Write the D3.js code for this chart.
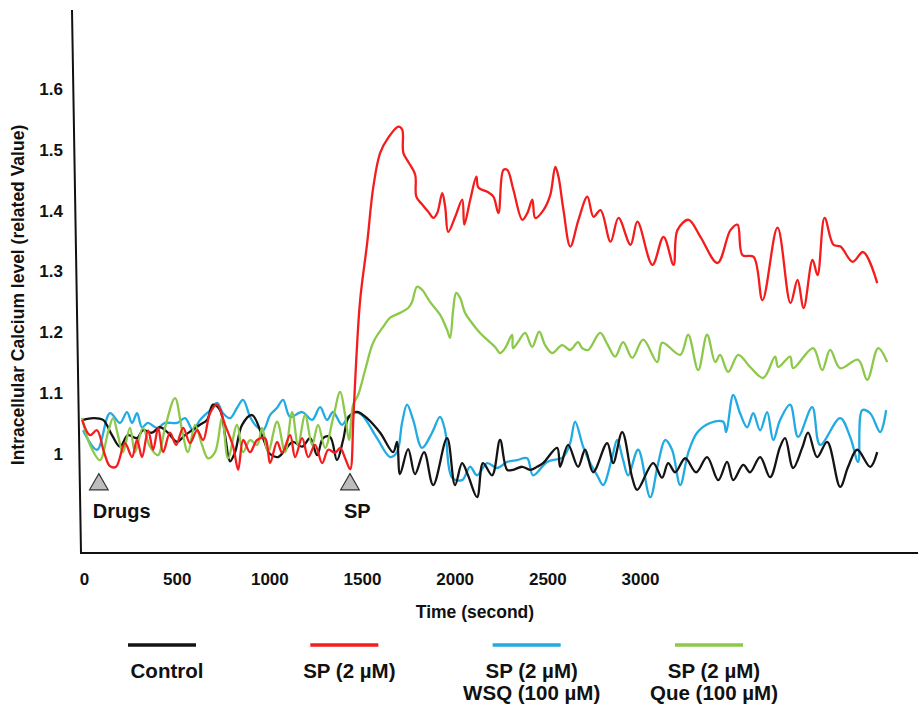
<!DOCTYPE html>
<html>
<head>
<meta charset="utf-8">
<script src="https://cdn.jsdelivr.net/npm/d3@7"></script>
<style>
  body { margin: 0; background: #fff; }
  text { font-family: Arial, "Liberation Sans", sans-serif; font-weight: bold; fill: #111; }
</style>
</head>
<body>
<svg id="chart" width="920" height="708"></svg>
<script>
// tick labels
var xTicks = [0, 500, 1000, 1500, 2000, 2500, 3000];
var yTicks = [1, 1.1, 1.2, 1.3, 1.4, 1.5, 1.6];

// [time (s), relative calcium]
var control = [[-5,1.056],[49,1.059],[103,1.056],[151,1.031],[194,1.012],[237,1.031],[286,1.026],[318,1.039],[367,1.035],[410,1.044],[453,1.035],[502,1.020],[545,1.031],[583,1.039],[626,1.048],[664,1.056],[696,1.081],[734,1.072],[761,1.031],[788,0.988],[815,1.003],[853,1.048],[907,1.064],[966,1.026],[1004,1.000],[1047,0.995],[1085,1.007],[1128,1.020],[1177,1.012],[1220,1.026],[1258,0.998],[1290,1.026],[1328,1.028],[1365,0.990],[1398,1.023],[1425,1.059],[1452,1.067],[1479,1.069],[1527,1.059],[1598,1.035],[1668,1.003],[1689,1.020],[1705,0.967],[1749,1.008],[1786,0.967],[1835,1.003],[1884,0.949],[1959,1.026],[2002,0.949],[2040,0.985],[2072,0.965],[2121,0.929],[2153,0.985],[2202,0.965],[2245,1.023],[2283,0.974],[2315,0.974],[2364,0.979],[2407,0.974],[2445,0.979],[2477,0.985],[2553,1.010],[2569,0.979],[2612,1.015],[2666,0.979],[2704,1.007],[2747,0.970],[2823,1.018],[2855,0.985],[2904,1.036],[2958,0.961],[2985,0.941],[3071,0.985],[3119,0.961],[3152,0.985],[3190,0.970],[3244,0.993],[3303,0.970],[3362,0.995],[3422,0.957],[3470,0.987],[3503,0.957],[3557,0.982],[3594,0.970],[3648,0.995],[3702,0.962],[3756,1.012],[3783,1.026],[3826,0.977],[3875,1.010],[3907,1.035],[3956,0.995],[4010,1.020],[4080,0.946],[4123,0.979],[4172,1.007],[4242,0.979],[4280,1.003]];

var sp = [[-10,1.056],[32,1.031],[70,1.039],[108,1.003],[140,0.980],[173,0.979],[221,1.018],[259,0.995],[286,1.023],[313,0.995],[346,1.039],[373,1.007],[400,1.043],[427,1.003],[464,1.035],[497,1.015],[535,1.043],[572,1.018],[610,1.039],[643,1.023],[680,1.067],[718,1.081],[761,1.048],[805,1.012],[832,0.974],[859,1.023],[896,1.003],[934,1.023],[977,1.026],[1004,0.985],[1042,1.020],[1069,1.002],[1112,1.031],[1139,0.995],[1177,1.026],[1210,0.995],[1247,1.015],[1285,0.985],[1318,1.007],[1355,1.002],[1382,1.010],[1409,0.993],[1436,0.975],[1453,1.056],[1469,1.155],[1490,1.253],[1528,1.347],[1561,1.439],[1598,1.495],[1642,1.520],[1696,1.538],[1717,1.533],[1723,1.495],[1750,1.480],[1787,1.459],[1793,1.423],[1825,1.410],[1858,1.398],[1885,1.388],[1906,1.396],[1933,1.429],[1949,1.406],[1965,1.365],[2003,1.390],[2041,1.418],[2052,1.377],[2084,1.418],[2117,1.456],[2128,1.438],[2176,1.431],[2209,1.423],[2236,1.396],[2263,1.467],[2284,1.467],[2317,1.434],[2365,1.385],[2392,1.396],[2419,1.418],[2435,1.388],[2479,1.401],[2516,1.426],[2543,1.472],[2560,1.456],[2587,1.401],[2624,1.341],[2668,1.385],[2716,1.423],[2749,1.390],[2787,1.401],[2841,1.349],[2884,1.388],[2949,1.344],[2986,1.382],[3067,1.311],[3127,1.357],[3181,1.311],[3202,1.368],[3262,1.385],[3326,1.357],[3418,1.314],[3488,1.368],[3526,1.377],[3553,1.327],[3613,1.324],[3661,1.253],[3742,1.372],[3812,1.248],[3850,1.286],[3883,1.240],[3931,1.319],[3958,1.294],[3996,1.388],[4044,1.344],[4082,1.341],[4147,1.316],[4204,1.332],[4280,1.281]];

var spWsq = [[-5,1.039],[70,1.007],[140,1.067],[194,1.051],[232,1.069],[259,1.051],[286,1.067],[313,1.044],[345,1.051],[394,1.043],[437,1.051],[502,1.051],[545,1.059],[588,1.039],[626,1.056],[680,1.072],[718,1.084],[750,1.067],[788,1.059],[826,1.076],[858,1.089],[896,1.061],[923,1.048],[966,1.039],[1004,1.064],[1042,1.076],[1074,1.089],[1112,1.061],[1177,1.069],[1231,1.056],[1274,1.077],[1311,1.056],[1344,1.069],[1392,1.048],[1425,1.061],[1463,1.069],[1500,1.064],[1581,1.026],[1652,0.995],[1689,1.003],[1716,1.051],[1743,1.081],[1776,1.056],[1824,1.010],[1878,1.035],[1921,1.061],[1948,1.039],[1986,0.961],[2040,0.957],[2083,0.979],[2121,0.965],[2175,0.985],[2229,0.977],[2283,0.987],[2337,0.990],[2391,0.993],[2423,0.965],[2499,0.987],[2585,0.995],[2623,1.018],[2650,1.053],[2693,1.012],[2731,0.985],[2769,0.965],[2801,0.949],[2850,0.995],[2877,1.023],[2909,0.990],[2936,0.965],[2990,1.007],[3055,0.929],[3098,0.985],[3136,1.023],[3173,1.007],[3217,0.949],[3260,1.002],[3308,1.035],[3378,1.051],[3449,1.053],[3465,1.036],[3503,1.097],[3540,1.067],[3578,1.044],[3611,1.067],[3648,1.039],[3686,1.069],[3719,1.023],[3756,1.056],[3810,1.081],[3853,1.028],[3929,1.077],[3972,1.015],[4080,1.059],[4134,1.028],[4177,0.987],[4199,1.072],[4242,1.067],[4296,1.036],[4328,1.072]];

var spQue = [[-11,1.059],[32,1.015],[86,0.990],[130,1.036],[157,1.059],[183,1.031],[210,1.003],[248,1.043],[275,1.003],[318,1.043],[356,1.012],[399,0.998],[437,1.043],[491,1.092],[529,1.039],[561,1.003],[599,1.048],[637,1.015],[669,0.993],[707,1.003],[745,1.059],[777,0.993],[826,1.048],[858,1.003],[896,1.023],[934,1.015],[961,1.043],[993,1.003],[1042,1.053],[1085,1.003],[1123,1.069],[1155,1.015],[1193,1.064],[1231,1.015],[1263,1.048],[1301,1.010],[1344,1.059],[1382,1.102],[1409,1.064],[1430,1.023],[1452,1.081],[1479,1.097],[1517,1.138],[1560,1.183],[1614,1.209],[1652,1.224],[1705,1.232],[1749,1.240],[1770,1.250],[1797,1.275],[1824,1.270],[1867,1.250],[1921,1.229],[1959,1.204],[1975,1.191],[1992,1.237],[2008,1.265],[2029,1.257],[2056,1.232],[2094,1.215],[2137,1.199],[2175,1.188],[2218,1.176],[2245,1.166],[2272,1.174],[2310,1.196],[2315,1.174],[2342,1.184],[2380,1.199],[2418,1.176],[2456,1.201],[2488,1.179],[2526,1.166],[2580,1.179],[2623,1.171],[2666,1.184],[2688,1.174],[2720,1.171],[2785,1.199],[2823,1.181],[2866,1.160],[2909,1.184],[2958,1.158],[3017,1.188],[3093,1.151],[3120,1.183],[3217,1.163],[3260,1.196],[3314,1.138],[3362,1.196],[3406,1.151],[3432,1.163],[3476,1.135],[3530,1.163],[3594,1.143],[3665,1.125],[3729,1.160],[3746,1.143],[3810,1.160],[3826,1.141],[3934,1.174],[3983,1.138],[4026,1.171],[4080,1.141],[4177,1.155],[4226,1.122],[4285,1.174],[4334,1.151]];

var legendLabels = [["Control"], ["SP (2 µM)"], ["SP (2 µM)", "WSQ (100 µM)"], ["SP (2 µM)", "Que (100 µM)"]];
var colors = ["#141414", "#f41c1c", "#22aae2", "#8cc84a"];
var markers = [["Drugs", 80], ["SP", 1435]];

var series = [control, sp, spWsq, spQue];
var drawOrder = [2, 0, 3, 1];

var svg = d3.select("#chart");

var x = d3.scaleLinear().domain([0, 3000]).range([84, 640]);
var y = d3.scaleLinear().domain([1, 1.6]).range([454, 89]);

// axis frame (left axis is slightly slanted in the original)
svg.append("path")
    .attr("d", "M72,10 L81,553 L918,553")
    .attr("fill", "none")
    .attr("stroke", "#111")
    .attr("stroke-width", 2);

var yAxis = svg.append("g")
    .attr("transform", "translate(66,0)")
    .call(d3.axisLeft(y).tickValues(yTicks).tickSize(0).tickPadding(3)
      .tickFormat(d => d === 1 ? "1" : d3.format(".1f")(d)));
yAxis.select(".domain").remove();
yAxis.selectAll("text").style("font-size", "17px").attr("fill", "#111");

var xAxis = svg.append("g")
    .attr("transform", "translate(0,573)")
    .call(d3.axisBottom(x).tickValues(xTicks).tickSize(0).tickPadding(0)
      .tickFormat(d3.format("d")));
xAxis.select(".domain").remove();
xAxis.selectAll("text").style("font-size", "17px").attr("fill", "#111");

svg.append("text")
    .attr("x", 475).attr("y", 618)
    .attr("text-anchor", "middle")
    .style("font-size", "17.5px")
    .text("Time (second)");

svg.append("text")
    .attr("transform", "translate(24,295) rotate(-90)")
    .attr("text-anchor", "middle")
    .style("font-size", "17.5px")
    .text("Intracellular Calcium level (related Value)");

var line = d3.line()
    .x(d => x(d[0]))
    .y(d => y(d[1]))
    .curve(d3.curveCatmullRom.alpha(0.5));

svg.append("g")
  .selectAll("path")
  .data(drawOrder)
  .join("path")
    .attr("d", i => line(series[i]))
    .attr("fill", "none")
    .attr("stroke", i => colors[i])
    .attr("stroke-width", 2.3)
    .attr("stroke-linejoin", "round");

// event markers
var mk = svg.append("g")
  .selectAll("g")
  .data(markers)
  .join("g")
    .attr("transform", d => `translate(${x(d[1])},0)`);

mk.append("path")
    .attr("transform", `translate(0,${y(0.95)})`)
    .attr("d", d3.symbol(d3.symbolTriangle, 150))
    .attr("fill", "#bdbdbd")
    .attr("stroke", "#333")
    .attr("stroke-width", 1.2);

mk.append("text")
    .attr("x", -6).attr("y", 518)
    .style("font-size", "20px")
    .text(d => d[0]);

// legend
var lx = d3.scalePoint().domain(d3.range(4)).range([162, 709]);

var lg = svg.append("g")
  .selectAll("g")
  .data(d3.range(4))
  .join("g")
    .attr("transform", i => `translate(${lx(i)},0)`);

lg.append("line")
    .attr("x1", -34).attr("x2", 34)
    .attr("y1", 645).attr("y2", 645)
    .attr("stroke", i => colors[i])
    .attr("stroke-width", 3.5);

lg.append("text")
    .attr("text-anchor", "middle")
    .style("font-size", "20.5px")
  .selectAll("tspan")
  .data(i => legendLabels[i])
  .join("tspan")
    .attr("x", 5)
    .attr("y", (d, j) => 678 + j * 22)
    .text(d => d);
</script>
</body>
</html>
